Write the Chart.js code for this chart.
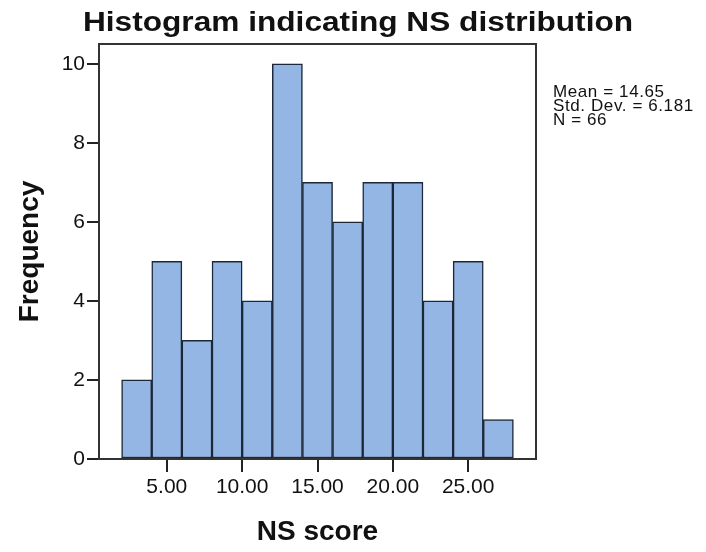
<!DOCTYPE html>
<html>
<head>
<meta charset="utf-8">
<script src="https://cdn.jsdelivr.net/npm/chart.js@4"></script>
<style>
  html, body { margin: 0; padding: 0; background: #fff; }
  #wrap { width: 706px; height: 552px; }
</style>
</head>
<body>
<div id="wrap"><canvas id="hist" width="706" height="552"></canvas></div>
<script>
// histogram bins (centres, width 2) and counts
const binCenters = [3, 5, 7, 9, 11, 13, 15, 17, 19, 21, 23, 25, 27];
const frequency = [2, 5, 3, 5, 4, 10, 7, 6, 7, 7, 4, 5, 1];
const xTicks = [5, 10, 15, 20, 25];
const yTicks = [0, 2, 4, 6, 8, 10];
const chartTitle = "Histogram indicating NS distribution";
const statsLines = ["Mean = 14.65", "Std. Dev. = 6.181", "N = 66"];

const FONT = "'Liberation Sans', Arial, sans-serif";

// title, box around the plot and the stats text on the right
const framePlugin = {
  id: "frame",
  afterDraw(chart) {
    const { ctx, chartArea: a } = chart;
    ctx.save();
    ctx.strokeStyle = "#333";
    ctx.lineWidth = 2;
    ctx.strokeRect(a.left, a.top, a.right - a.left, a.bottom - a.top);

    // title glyphs are wide in the original, so stretch it a bit
    ctx.save();
    ctx.fillStyle = "#111";
    ctx.textBaseline = "alphabetic";
    ctx.textAlign = "center";
    ctx.font = "bold 28px " + FONT;
    ctx.translate(358, 31);
    ctx.scale(1.13, 1);
    ctx.fillText(chartTitle, 0, 0);
    ctx.restore();

    ctx.fillStyle = "#111";
    ctx.textAlign = "left";
    ctx.textBaseline = "top";
    ctx.font = "17px " + FONT;
    ctx.letterSpacing = "0.6px";
    statsLines.forEach((t, i) => ctx.fillText(t, 553, 84 + i * 14));
    ctx.restore();
  }
};

new Chart(document.getElementById("hist"), {
  type: "bar",
  data: {
    datasets: [{
      data: binCenters.map((c, i) => ({ x: c, y: frequency[i] })),
      backgroundColor: "#94b6e4",
      borderColor: "#1c2838",
      borderWidth: 1.5,
      borderSkipped: false,
      barPercentage: 1,
      categoryPercentage: 1
    }]
  },
  options: {
    responsive: false,
    animation: false,
    layout: { padding: { left: 0, right: 170, top: 44, bottom: 0 } },
    plugins: {
      legend: { display: false },
      tooltip: { enabled: false },
      title: { display: false }
    },
    scales: {
      x: {
        type: "linear",
        min: 0.5,
        max: 29.5,
        offset: false,
        afterBuildTicks: (s) => { s.ticks = xTicks.map(v => ({ value: v })); },
        afterFit: (s) => { s.height = 93; },
        grid: { offset: false, drawOnChartArea: false, drawTicks: true, tickLength: 13, color: "#222", lineWidth: 2 },
        border: { display: false },
        ticks: {
          color: "#111",
          padding: 3,
          maxRotation: 0,
          font: { family: FONT, size: 21 },
          callback: (v) => Number(v).toFixed(2)
        },
        title: {
          display: true,
          text: "NS score",
          color: "#111",
          font: { family: FONT, size: 28, weight: "bold" },
          padding: { top: 0, bottom: 3 }
        }
      },
      y: {
        min: 0,
        max: 10.5,
        afterBuildTicks: (s) => { s.ticks = yTicks.map(v => ({ value: v })); },
        afterFit: (s) => { s.width = 99; },
        grid: { drawOnChartArea: false, drawTicks: true, tickLength: 12, color: "#222", lineWidth: 2 },
        border: { display: false },
        ticks: {
          color: "#111",
          padding: 2,
          font: { family: FONT, size: 21 }
        },
        title: {
          display: true,
          text: "Frequency",
          color: "#111",
          font: { family: FONT, size: 28, weight: "bold" },
          padding: { top: 13, bottom: 0 }
        }
      }
    }
  },
  plugins: [framePlugin]
});
</script>
</body>
</html>
